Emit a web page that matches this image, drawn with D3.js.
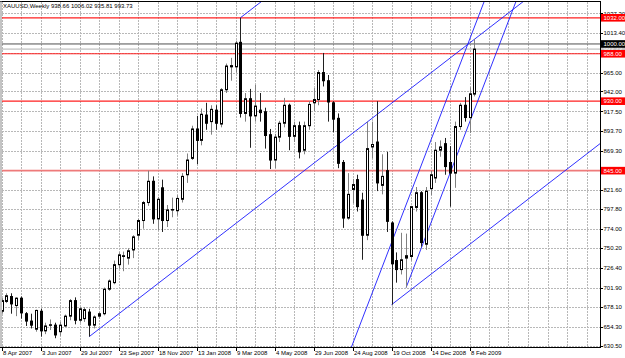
<!DOCTYPE html>
<html lang="en">
<head>
<meta charset="utf-8" />
<title>XAUUSD Weekly</title>
<script src="https://cdn.jsdelivr.net/npm/d3@7"></script>
<style>
  body { margin: 0; background: #fff; }
  svg  { display: block; font-family: "Liberation Sans", Arial, sans-serif; }
  .grid { stroke: #b8b8b8; stroke-width: 1; stroke-dasharray: 2,1; shape-rendering: crispEdges; }
  .lbl  { font-size: 6px; fill: #000; }
</style>
</head>
<body>
<svg id="chart" width="625" height="358"></svg>
<script>
// weekly candles, bar 0 = week of 8 Apr 2007
const open  = [673,685,691,680,689,670,661,651,673,649,656,656,648,655,667,686,662,664,672,656,
               667,670,700,708,730,740,738,748,766,784,806,832,786,824,784,797,796,810,840,860,
               896,882,913,905,919,902,944,972,972,1002,915,933,912,919,917,889,858,886,903,925,
               887,900,870,900,928,932,965,955,928,909,855,787,822,834,809,766,874,880,827,845,
               781,735,724,738,740,800,818,755,823,836,870,878,855,842,899,925,910,938.66];
const high  = [689,695,695,690,691,672,670,675,676,659,663,659,660,669,688,690,678,678,676,668,
               672,702,712,735,745,746,750,766,786,808,845,838,813,834,803,812,815,842,866,900,
               912,921,928,925,925,946,976,983,1004,1032,940,945,950,940,922,896,890,906,934,927,
               905,905,905,930,946,968,989,962,930,915,858,842,835,840,818,905,905,930,865,868,
               783,745,769,768,802,825,820,825,845,880,882,885,875,905,928,935,947,1006.02];
const low   = [670,683,670,667,664,655,652,648,642,645,650,640,643,654,662,657,659,660,642,652,
               664,668,698,706,725,722,730,738,760,774,802,780,772,770,776,788,790,806,830,858,
               853,876,895,889,895,898,940,955,965,910,905,873,905,905,872,847,848,880,898,870,
               880,860,865,895,918,925,948,905,892,848,775,785,805,795,736,760,860,820,816,770,
               681,708,718,702,735,795,752,748,815,830,862,840,801,824,895,905,891,935.81];
const close = [686,692,682,689,671,661,656,674,649,655,656.5,644,656,667,686,662,676,675,656,666,
               670,700,710,730,742,741,747,764,784,806,832,786,810,784,797,797.5,811,838,858,896,
               882,914,903,920,903,944,973,973.5,1001,915,933,912,924,916,888,858,886,903,925,887,
               900,868,900,926,932,965,955,929,908,854,787,816,828,801,766,872,877,830,838,783,
               731,724,736,741,801,818,757,820,840,870,874,850,842,899,925,910,939,993.73];

const dateLabels = ["8 Apr 2007","3 Jun 2007","29 Jul 2007","23 Sep 2007","18 Nov 2007","13 Jan 2008",
                    "9 Mar 2008","4 May 2008","29 Jun 2008","24 Aug 2008","19 Oct 2008","14 Dec 2008","8 Feb 2009"];
const priceTicks = [630.5,654.3,678.1,701.9,726.4,750.2,774.0,797.8,821.6,845.9,869.3,893.7,917.5,942.0,965.0,989.5,1013.4,1037.3];

const redLevels = [1032, 988, 930, 845];
const roundLevel = 1000;
const lastPrice = 993.73;

// trend lines: [bar, price] anchors, ray = extend only to the right of the first point
const trendLines = [
  {a:[18,642],  b:[96,1001.1], ray:true},
  {a:[49,1032], b:[96,1248.4], ray:true},
  {a:[80,681],  b:[96,754.7],  ray:true},
  {a:[72,632.6],b:[96,1005.2], ray:false},
  {a:[83,702],  b:[96,903.9],  ray:true}
];

const L = 2, T = 2, R = 600, B = 347;
const svg = d3.select('#chart');

const x = d3.scaleLinear().domain([0, 96]).range([1.5, 469.5]);
const y = d3.scaleLinear().domain([630.5, 1013.4]).range([346, 33]);

svg.append('defs').append('clipPath').attr('id','plot')
  .append('rect').attr('x',L).attr('y',T).attr('width',R-L).attr('height',B-T);

const plot = svg.append('g').attr('clip-path','url(#plot)');

/* ---- grid ---- */
const lastBar = Math.floor(x.invert(R));
plot.selectAll('line.vg').data(d3.range(0, lastBar + 1, 4)).join('line')
  .attr('class','grid').attr('x1',d=>Math.round(x(d))+0.5).attr('x2',d=>Math.round(x(d))+0.5)
  .attr('y1',T).attr('y2',B);
plot.selectAll('line.hg').data(priceTicks).join('line')
  .attr('class','grid').attr('x1',L).attr('x2',R)
  .attr('y1',d=>Math.round(y(d))+0.5).attr('y2',d=>Math.round(y(d))+0.5);

/* ---- horizontal levels ---- */
plot.append('line').attr('x1',L).attr('x2',R)
  .attr('y1',y(lastPrice)).attr('y2',y(lastPrice)).attr('stroke','#b0b0b0').attr('stroke-width',1);
plot.append('line').attr('x1',L).attr('x2',R)
  .attr('y1',y(roundLevel)).attr('y2',y(roundLevel)).attr('stroke','#505050').attr('stroke-width',1);
plot.selectAll('line.lvl').data(redLevels).join('line')
  .attr('x1',L).attr('x2',R).attr('y1',d=>y(d)).attr('y2',d=>y(d))
  .attr('stroke',d=>d===845?'#ee7a7a':'#ff2020')
  .attr('stroke-width',d=>d===845?1.8:1.2);

/* ---- trend lines ---- */
trendLines.forEach(t=>{
  const s = (t.b[1]-t.a[1])/(t.b[0]-t.a[0]);
  const i0 = t.ray ? t.a[0] : -10, i1 = lastBar + 5;
  plot.append('line')
    .attr('x1',x(i0)).attr('y1',y(t.a[1]+s*(i0-t.a[0])))
    .attr('x2',x(i1)).attr('y2',y(t.a[1]+s*(i1-t.a[0])))
    .attr('stroke','#1a1aff').attr('stroke-width',0.9);
});

/* ---- candles ---- */
const bars = d3.range(open.length).map(i=>({i,o:open[i],h:high[i],l:low[i],c:close[i]}));
const cg = plot.selectAll('g.c').data(bars).join('g');
cg.append('line')
  .attr('x1',d=>Math.round(x(d.i))+0.5).attr('x2',d=>Math.round(x(d.i))+0.5)
  .attr('y1',d=>y(d.h)).attr('y2',d=>y(d.l))
  .attr('stroke',d=>d.c>=d.o?'#808080':'#202020').attr('stroke-width',1);
cg.append('rect')
  .attr('x',d=>Math.round(x(d.i))-0.5).attr('width',2)
  .attr('y',d=>y(Math.max(d.o,d.c)))
  .attr('height',d=>Math.max(0.6, y(Math.min(d.o,d.c))-y(Math.max(d.o,d.c))))
  .attr('fill',d=>d.c>=d.o?'#fff':'#000').attr('stroke','#000').attr('stroke-width',1);

/* ---- frame ---- */
svg.append('line').attr('x1',0).attr('x2',R).attr('y1',1.5).attr('y2',1.5).attr('stroke','#000');
svg.append('line').attr('x1',1).attr('x2',1).attr('y1',1).attr('y2',B).attr('stroke','#888');
svg.append('line').attr('x1',0).attr('x2',R+1).attr('y1',B+0.5).attr('y2',B+0.5).attr('stroke','#000');
svg.append('line').attr('x1',R+0.5).attr('x2',R+0.5).attr('y1',1).attr('y2',B+1).attr('stroke','#000');

/* ---- price axis ---- */
svg.selectAll('line.yt').data(priceTicks).join('line')
  .attr('x1',R).attr('x2',R+3).attr('y1',d=>Math.round(y(d))+0.5).attr('y2',d=>Math.round(y(d))+0.5).attr('stroke','#000');
svg.selectAll('text.yl').data(priceTicks.filter(d=>y(d)>8)).join('text')
  .attr('class','lbl').attr('x',603.5).attr('y',d=>y(d)).attr('dy','0.36em')
  .text(d=>d.toFixed(2));

function tag(v, bg, fg){
  const g = svg.append('g').attr('transform',`translate(0,${y(v)})`);
  g.append('rect').attr('x',601).attr('y',-3.8).attr('width',24).attr('height',7.6).attr('fill',bg);
  g.append('text').attr('class','lbl').attr('x',603.5).attr('dy','0.36em').style('fill',fg).text(v.toFixed(2));
}
tag(lastPrice, '#c8c8c8', '#fff');
tag(roundLevel, '#000', '#fff');
redLevels.forEach(v=>tag(v, '#ff0000', '#fff'));

/* ---- time axis ---- */
const labelBars = dateLabels.map((d,k)=>k*8);
svg.selectAll('line.xt').data(labelBars).join('line')
  .attr('x1',d=>Math.round(x(d))+0.5).attr('x2',d=>Math.round(x(d))+0.5)
  .attr('y1',B).attr('y2',B+4).attr('stroke','#000');
svg.selectAll('text.xl').data(dateLabels).join('text')
  .attr('class','lbl').attr('x',(d,k)=>x(labelBars[k])+1.5).attr('y',355)
  .text(d=>d);

/* ---- title ---- */
svg.append('text').attr('class','lbl').attr('x',3).attr('y',8.2)
  .text(`XAUUSD,Weekly  ${open[open.length-1]} ${high[high.length-1]} ${low[low.length-1]} ${close[close.length-1]}`);
</script>
</body>
</html>
